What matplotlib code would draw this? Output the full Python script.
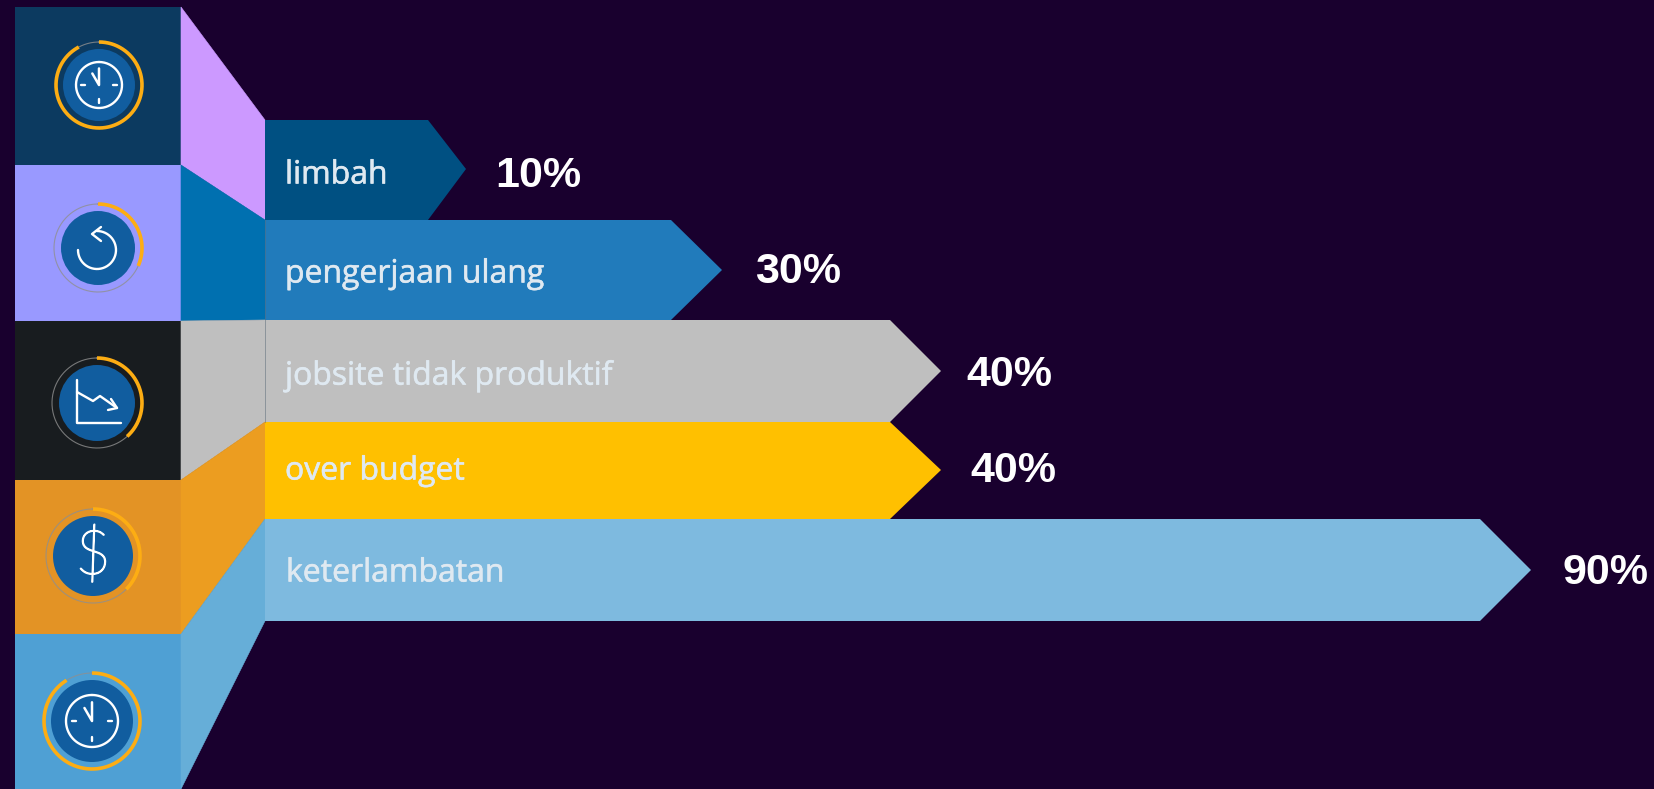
"""Funnel of cost drivers: icon blocks on the left, arrow bars on the right."""
import numpy as np
import matplotlib
matplotlib.use("Agg")
from matplotlib import patheffects
from matplotlib import pyplot as plt
from matplotlib.patches import Circle, Polygon, Rectangle

categories = ["limbah", "pengerjaan ulang", "jobsite tidak produktif", "over budget", "keterlambatan"]
percent_values = [10, 30, 40, 40, 90]
percent_labels = ["10%", "30%", "40%", "40%", "90%"]

# the bar axis is not linear: length in pixels for each percent knot
scale_percent = [0, 10, 30, 40, 90, 100]
scale_length = [0, 201, 457, 676, 1266, 1389]

# layout, in pixels
width, height = 1654, 789
block_left, block_right, bar_left = 15, 181, 265
block_edges = [7, 165, 321, 480, 634, 789]
row_edges = [120, 220, 320, 422, 519, 621]
row_tip_y = [169, 270, 371, 470, 570]
head_width = [38, 51, 51, 51, 51]
label_x = [285, 285, 285, 285, 286]
label_y = [175, 274, 376, 471, 573]
percent_x = [495, 755, 966, 970, 1563]
percent_y = [176, 272, 375, 471, 573]

block_colors = ["#0c3a60", "#9999ff", "#181c1f", "#e39325", "#4fa0d4"]
wedge_colors = ["#cc99ff", "#0070b0", "#bfbfbf", "#ec9d20", "#66aed8"]
bar_colors = ["#005082", "#217bbb", "#bfbfbf", "#ffc000", "#7ebadf"]
background = "#19002e"
disc_color = "#115d9f"
ring_color = "#fdad13"
label_color = "#dfe9f1"

# icon centre, ring radius, disc radius, ring sweep in degrees
icon_centers = [(99, 85), (98, 248), (97, 403), (93, 556), (92, 721)]
ring_radius = [43, 44, 45, 47, 48]
disc_radius = [36, 37, 38, 40, 41]
ring_sweep = [332, 114, 138, 135, 328]


def circle_points(cx, cy, r, start, stop):
    # angles run clockwise from twelve o'clock
    theta = np.deg2rad(np.linspace(start, stop, 160))
    return cx + r * np.sin(theta), cy - r * np.cos(theta)


def draw_line(ax, xs, ys, lw=1.7, color="white"):
    ax.plot(xs, ys, color=color, lw=lw, solid_capstyle="round", solid_joinstyle="round", zorder=6)


def draw_ring(ax, cx, cy, ring, disc, sweep):
    xs, ys = circle_points(cx, cy, ring, 0, 360)
    ax.plot(xs, ys, color="#8f8f8f", lw=0.8, alpha=0.8, zorder=4)
    xs, ys = circle_points(cx, cy, ring, 0, sweep)
    ax.plot(xs, ys, color=ring_color, lw=2.6, solid_capstyle="butt", zorder=5)
    ax.add_patch(Circle((cx, cy), disc, facecolor=disc_color, edgecolor="none", zorder=5))


def draw_clock(ax, cx, cy, r):
    xs, ys = circle_points(cx, cy, r, 0, 360)
    draw_line(ax, xs, ys)
    draw_line(ax, [cx, cx, cx - 0.29 * r], [cy - 0.72 * r, cy, cy - 0.5 * r], lw=1.8)
    draw_line(ax, [cx - 0.78 * r, cx - 0.6 * r], [cy, cy])
    draw_line(ax, [cx + 0.6 * r, cx + 0.78 * r], [cy, cy])
    draw_line(ax, [cx, cx], [cy + 0.6 * r, cy + 0.78 * r])


def draw_undo(ax, cx, cy):
    xs, ys = circle_points(cx - 1, cy + 2, 19, 270, 0)
    draw_line(ax, xs, ys)
    draw_line(ax, [cx + 3, cx - 6, cx + 3], [cy - 21, cy - 14, cy - 7])


def draw_trend(ax, cx, cy):
    draw_line(ax, [cx - 20, cx - 20, cx + 24], [cy - 23, cy + 20, cy + 20])
    draw_line(ax, [cx - 20, cx - 4, cx + 3, cx + 20], [cy - 11, cy - 2, cy - 7, cy + 5])
    draw_line(ax, [cx + 14, cx + 20, cx + 11], [cy - 4, cy + 5, cy + 7])


fig = plt.figure(figsize=(width / 100, height / 100), dpi=100, facecolor=background)
ax = fig.add_axes([0, 0, 1, 1])
ax.set_xlim(0, width)
ax.set_ylim(height, 0)
ax.axis("off")

# percent axis spanning the bar area only
bar_ax = fig.add_axes([bar_left / width, 0, 1 - bar_left / width, 1])
bar_ax.set_xscale("function", functions=(lambda v: np.interp(v, scale_percent, scale_length),
                                         lambda p: np.interp(p, scale_length, scale_percent)))
bar_ax.set_xlim(0, 100)
bar_ax.axis("off")
to_pixels = ax.transData.inverted()

for i, category in enumerate(categories):
    ax.add_patch(Rectangle((block_left, block_edges[i]), block_right - block_left,
                           block_edges[i + 1] - block_edges[i], facecolor=block_colors[i], edgecolor="none"))
    ax.add_patch(Polygon([(block_right, block_edges[i]), (bar_left, row_edges[i]),
                          (bar_left, row_edges[i + 1]), (block_right, block_edges[i + 1])],
                         facecolor=wedge_colors[i], edgecolor=wedge_colors[i], lw=0.4))

    tip = to_pixels.transform(bar_ax.transData.transform((percent_values[i], 0)))[0]
    ax.add_patch(Polygon([(bar_left, row_edges[i]), (tip - head_width[i], row_edges[i]),
                          (tip, row_tip_y[i]), (tip - head_width[i], row_edges[i + 1]),
                          (bar_left, row_edges[i + 1])],
                         facecolor=bar_colors[i], edgecolor="none", zorder=2))

    ax.text(label_x[i], label_y[i], category, color=label_color, fontsize=23, family="Open Sans",
            ha="left", va="center", zorder=7,
            path_effects=[patheffects.withStroke(linewidth=0.4, foreground=label_color)])
    ax.text(percent_x[i], percent_y[i], percent_labels[i], color="white", fontsize=31, family="Liberation Sans",
            fontweight="bold", ha="left", va="center", zorder=7)

    draw_ring(ax, *icon_centers[i], ring_radius[i], disc_radius[i], ring_sweep[i])

# thin seam between the wedges and the upper bars
ax.plot([bar_left, bar_left], [row_edges[1], row_edges[3]], color="#5a6a78", lw=0.6, alpha=0.6, zorder=3)

draw_clock(ax, *icon_centers[0], 23)
draw_undo(ax, *icon_centers[1])
draw_trend(ax, *icon_centers[2])
ax.text(icon_centers[3][0], icon_centers[3][1] - 1, "$", color="white", fontsize=44, family="Lato", fontweight="light",
        ha="center", va="center", zorder=7,
        path_effects=[patheffects.withStroke(linewidth=1.1, foreground="white")])
draw_clock(ax, *icon_centers[4], 26)

fig.savefig("out.png", dpi=100, facecolor=background)
